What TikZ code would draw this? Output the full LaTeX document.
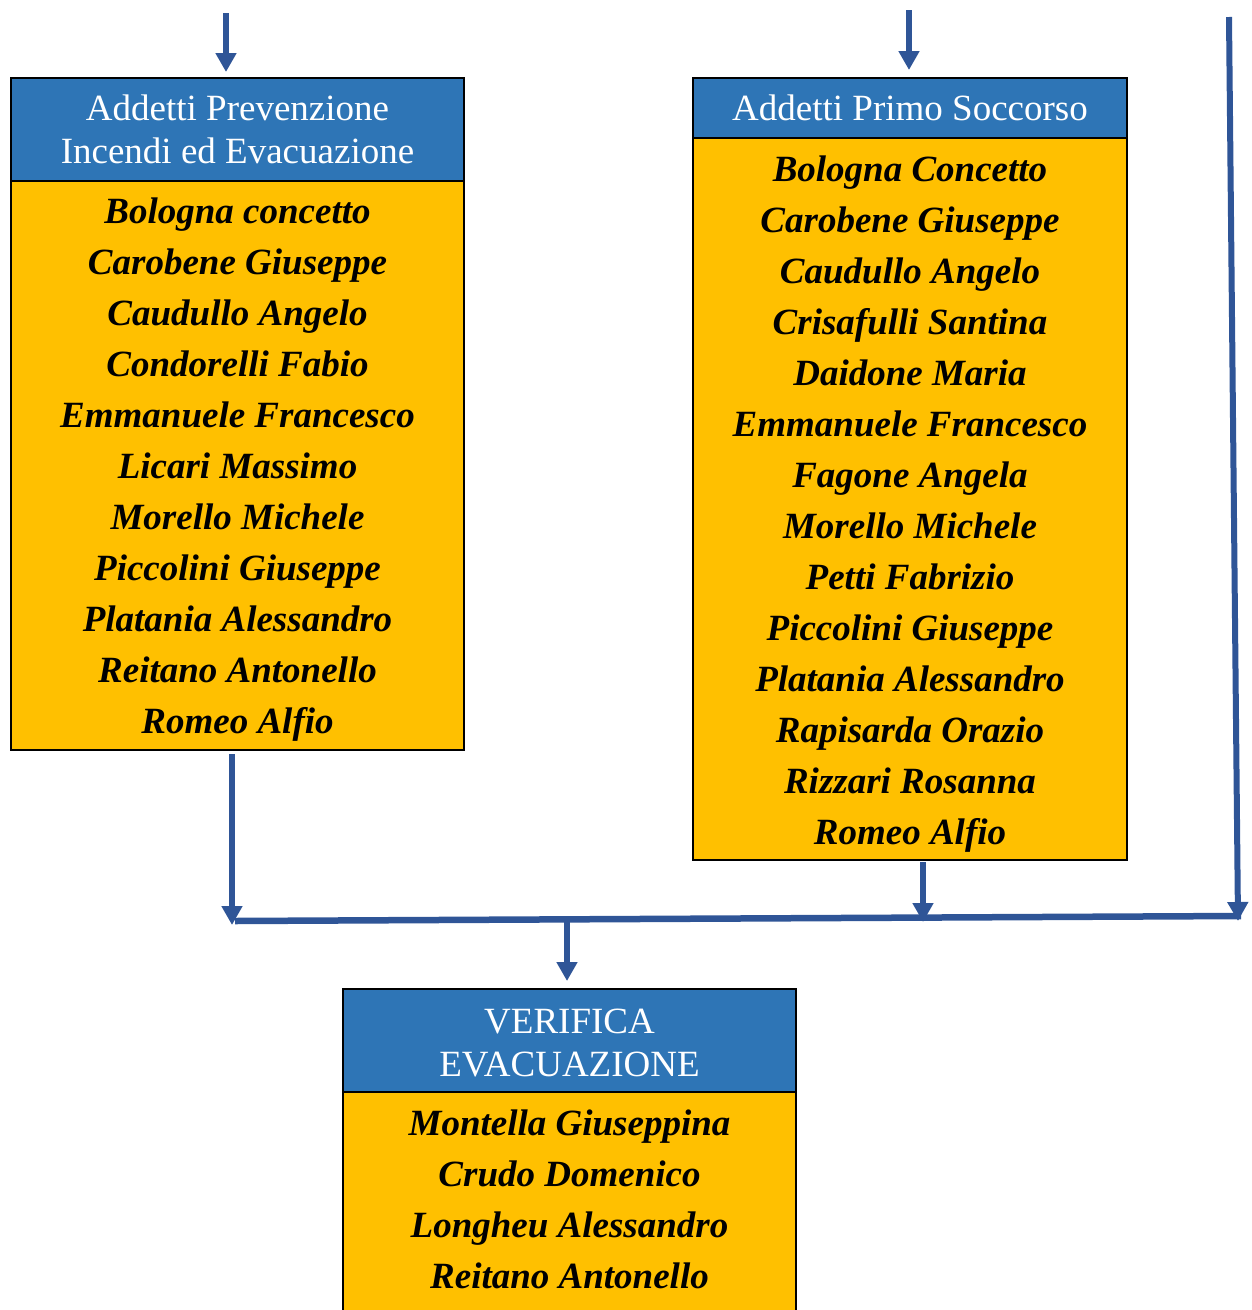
\documentclass[tikz,border=0pt]{standalone}
\usepackage{fontspec}
\setmainfont{Liberation Serif}
\usetikzlibrary{arrows.meta}
\definecolor{hdrblue}{HTML}{2E75B6}
\definecolor{boxorange}{HTML}{FFC000}
\definecolor{arrowblue}{HTML}{2F5597}
\begin{document}
\begin{tikzpicture}[x=1pt,y=-1pt,
 hdr/.style={draw=black,line width=2pt,fill=hdrblue,anchor=north west,inner sep=0pt,outer sep=0pt},
 body/.style={draw=black,line width=2pt,fill=boxorange,anchor=north west,inner sep=0pt,outer sep=0pt},
 htxt/.style={anchor=base,text=white,font=\fontsize{37}{43}\selectfont,inner sep=0pt},
 ntxt/.style={anchor=base,font=\fontsize{37}{43}\selectfont\bfseries\itshape,inner sep=0pt},
 flowarrow/.style={draw=arrowblue,line width=6pt,-{Triangle[width=20pt,length=19pt]}},
 link/.style={draw=arrowblue,line width=6.5pt}]
\useasboundingbox (0,0) rectangle (1252,1310);

% boxes
\node[body,minimum width=453pt,minimum height=569pt] (bodyL) at (11,181) {};
\node[hdr,minimum width=453pt,minimum height=103pt] (hdrL) at (11,78) {};
\node[body,minimum width=434pt,minimum height=722pt] (bodyR) at (693,138) {};
\node[hdr,minimum width=434pt,minimum height=60pt] (hdrR) at (693,78) {};
\node[body,minimum width=453pt,minimum height=260pt] (bodyB) at (343,1092) {};
\node[hdr,minimum width=453pt,minimum height=103pt] (hdrB) at (343,989) {};

% header texts
\node[htxt] (hL1) at (237.5,120) {Addetti Prevenzione};
\node[htxt] (hL2) at (237.5,163) {Incendi ed Evacuazione};
\node[htxt] (hR1) at (910,120) {Addetti Primo Soccorso};
\node[htxt] (hB1) at (569.5,1033) {VERIFICA};
\node[htxt] (hB2) at (569.5,1076) {EVACUAZIONE};

% names
\foreach \n [count=\i] in {Bologna concetto, Carobene Giuseppe, Caudullo Angelo, Condorelli Fabio, Emmanuele Francesco, Licari Massimo, Morello Michele, Piccolini Giuseppe, Platania Alessandro, Reitano Antonello, Romeo Alfio}
  \node[ntxt] (L\i) at ({237.5},{223+51*(\i-1)}) {\n};
\foreach \n [count=\i] in {Bologna Concetto, Carobene Giuseppe, Caudullo Angelo, Crisafulli Santina, Daidone Maria, Emmanuele Francesco, Fagone Angela, Morello Michele, Petti Fabrizio, Piccolini Giuseppe, Platania Alessandro, Rapisarda Orazio, Rizzari Rosanna, Romeo Alfio}
  \node[ntxt] (R\i) at ({910},{181+51*(\i-1)}) {\n};
\foreach \n [count=\i] in {Montella Giuseppina, Crudo Domenico, Longheu Alessandro, Reitano Antonello}
  \node[ntxt] (B\i) at ({569.5},{1135+51*(\i-1)}) {\n};

% connector points
\coordinate (inL) at (226,13);
\coordinate (tipL) at (226,72);
\coordinate (inR) at (909,10);
\coordinate (tipR) at (909,70);
\coordinate (inF) at (1229,17);
\coordinate (tipF) at (1238,921);
\coordinate (outL) at (232,754);
\coordinate (jL) at (232,925);
\coordinate (outR) at (923,862);
\coordinate (jR) at (923,922);
\coordinate (busL) at (235,921);
\coordinate (busR) at (1241,916);
\coordinate (busM) at (567,921);
\coordinate (tipB) at (567,981);

\draw[flowarrow] (inL) -- (tipL);
\draw[flowarrow] (inR) -- (tipR);
\draw[link] (busL) -- (busR);
\draw[flowarrow] (inF) -- (tipF);
\draw[flowarrow] (outL) -- (jL);
\draw[flowarrow] (outR) -- (jR);
\draw[flowarrow] (busM) -- (tipB);
\end{tikzpicture}
\end{document}
